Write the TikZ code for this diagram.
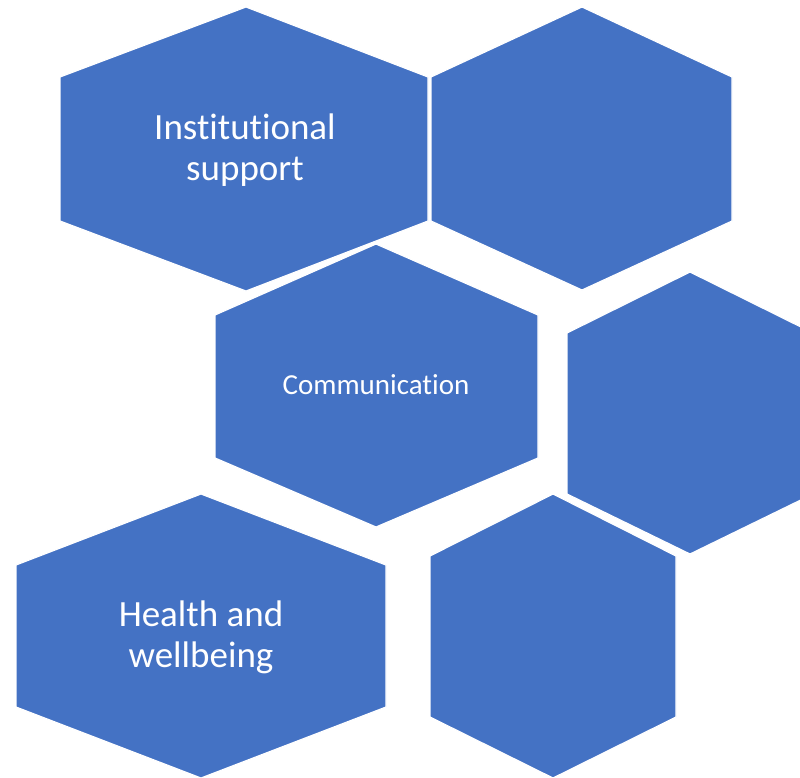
\documentclass[tikz,border=0pt]{standalone}
\usepackage{fontspec}
\setmainfont{Carlito}[RawFeature={-liga;-clig;-dlig}]
\usetikzlibrary{positioning}

\definecolor{hexblue}{HTML}{4472C4}

\begin{document}
\begin{tikzpicture}[x=1pt,y=-1pt,
        hexcell/.style={fill=hexblue, draw=white, line width=1.2pt, line join=miter},
        biglabel/.style={text=white, align=center, inner sep=0pt, font=\fontsize{37}{41}\selectfont},
        smalllabel/.style={text=white, inner sep=0pt, font=\fontsize{29}{34}\selectfont}]
                \useasboundingbox (0,0) rectangle (800,777);
                \clip (0,0) rectangle (800,777);
                % top row
                \draw [hexcell] (246,7) -- (428,77) -- (428,221) -- (246,291) -- (60,221) -- (60,77) -- cycle;
                \draw [hexcell] (582,7) -- (732,77) -- (732,221) -- (582,290) -- (431,221) -- (431,77) -- cycle;
                % middle row
                \draw [hexcell] (376,244) -- (538,315) -- (538,458) -- (376,527) -- (215,458) -- (215,315) -- cycle;
                \draw [hexcell] (690,272) -- (813,333) -- (813,494) -- (690,554) -- (567,494) -- (567,333) -- cycle;
                % bottom row
                \draw [hexcell] (201,494) -- (386,565) -- (386,707) -- (201,778) -- (16,707) -- (16,565) -- cycle;
                \draw [hexcell] (553,494) -- (676,556) -- (676,717) -- (553,778) -- (430,717) -- (430,556) -- cycle;
                % labels
                \node [biglabel] (support) at (245,150) {Institutional\\support};
                \node [smalllabel, anchor=base] (comm) at (376,394) {Communication};
                \node [biglabel] (health) at (201,637) {Health and\\wellbeing};
            \end{tikzpicture}
\end{document}
